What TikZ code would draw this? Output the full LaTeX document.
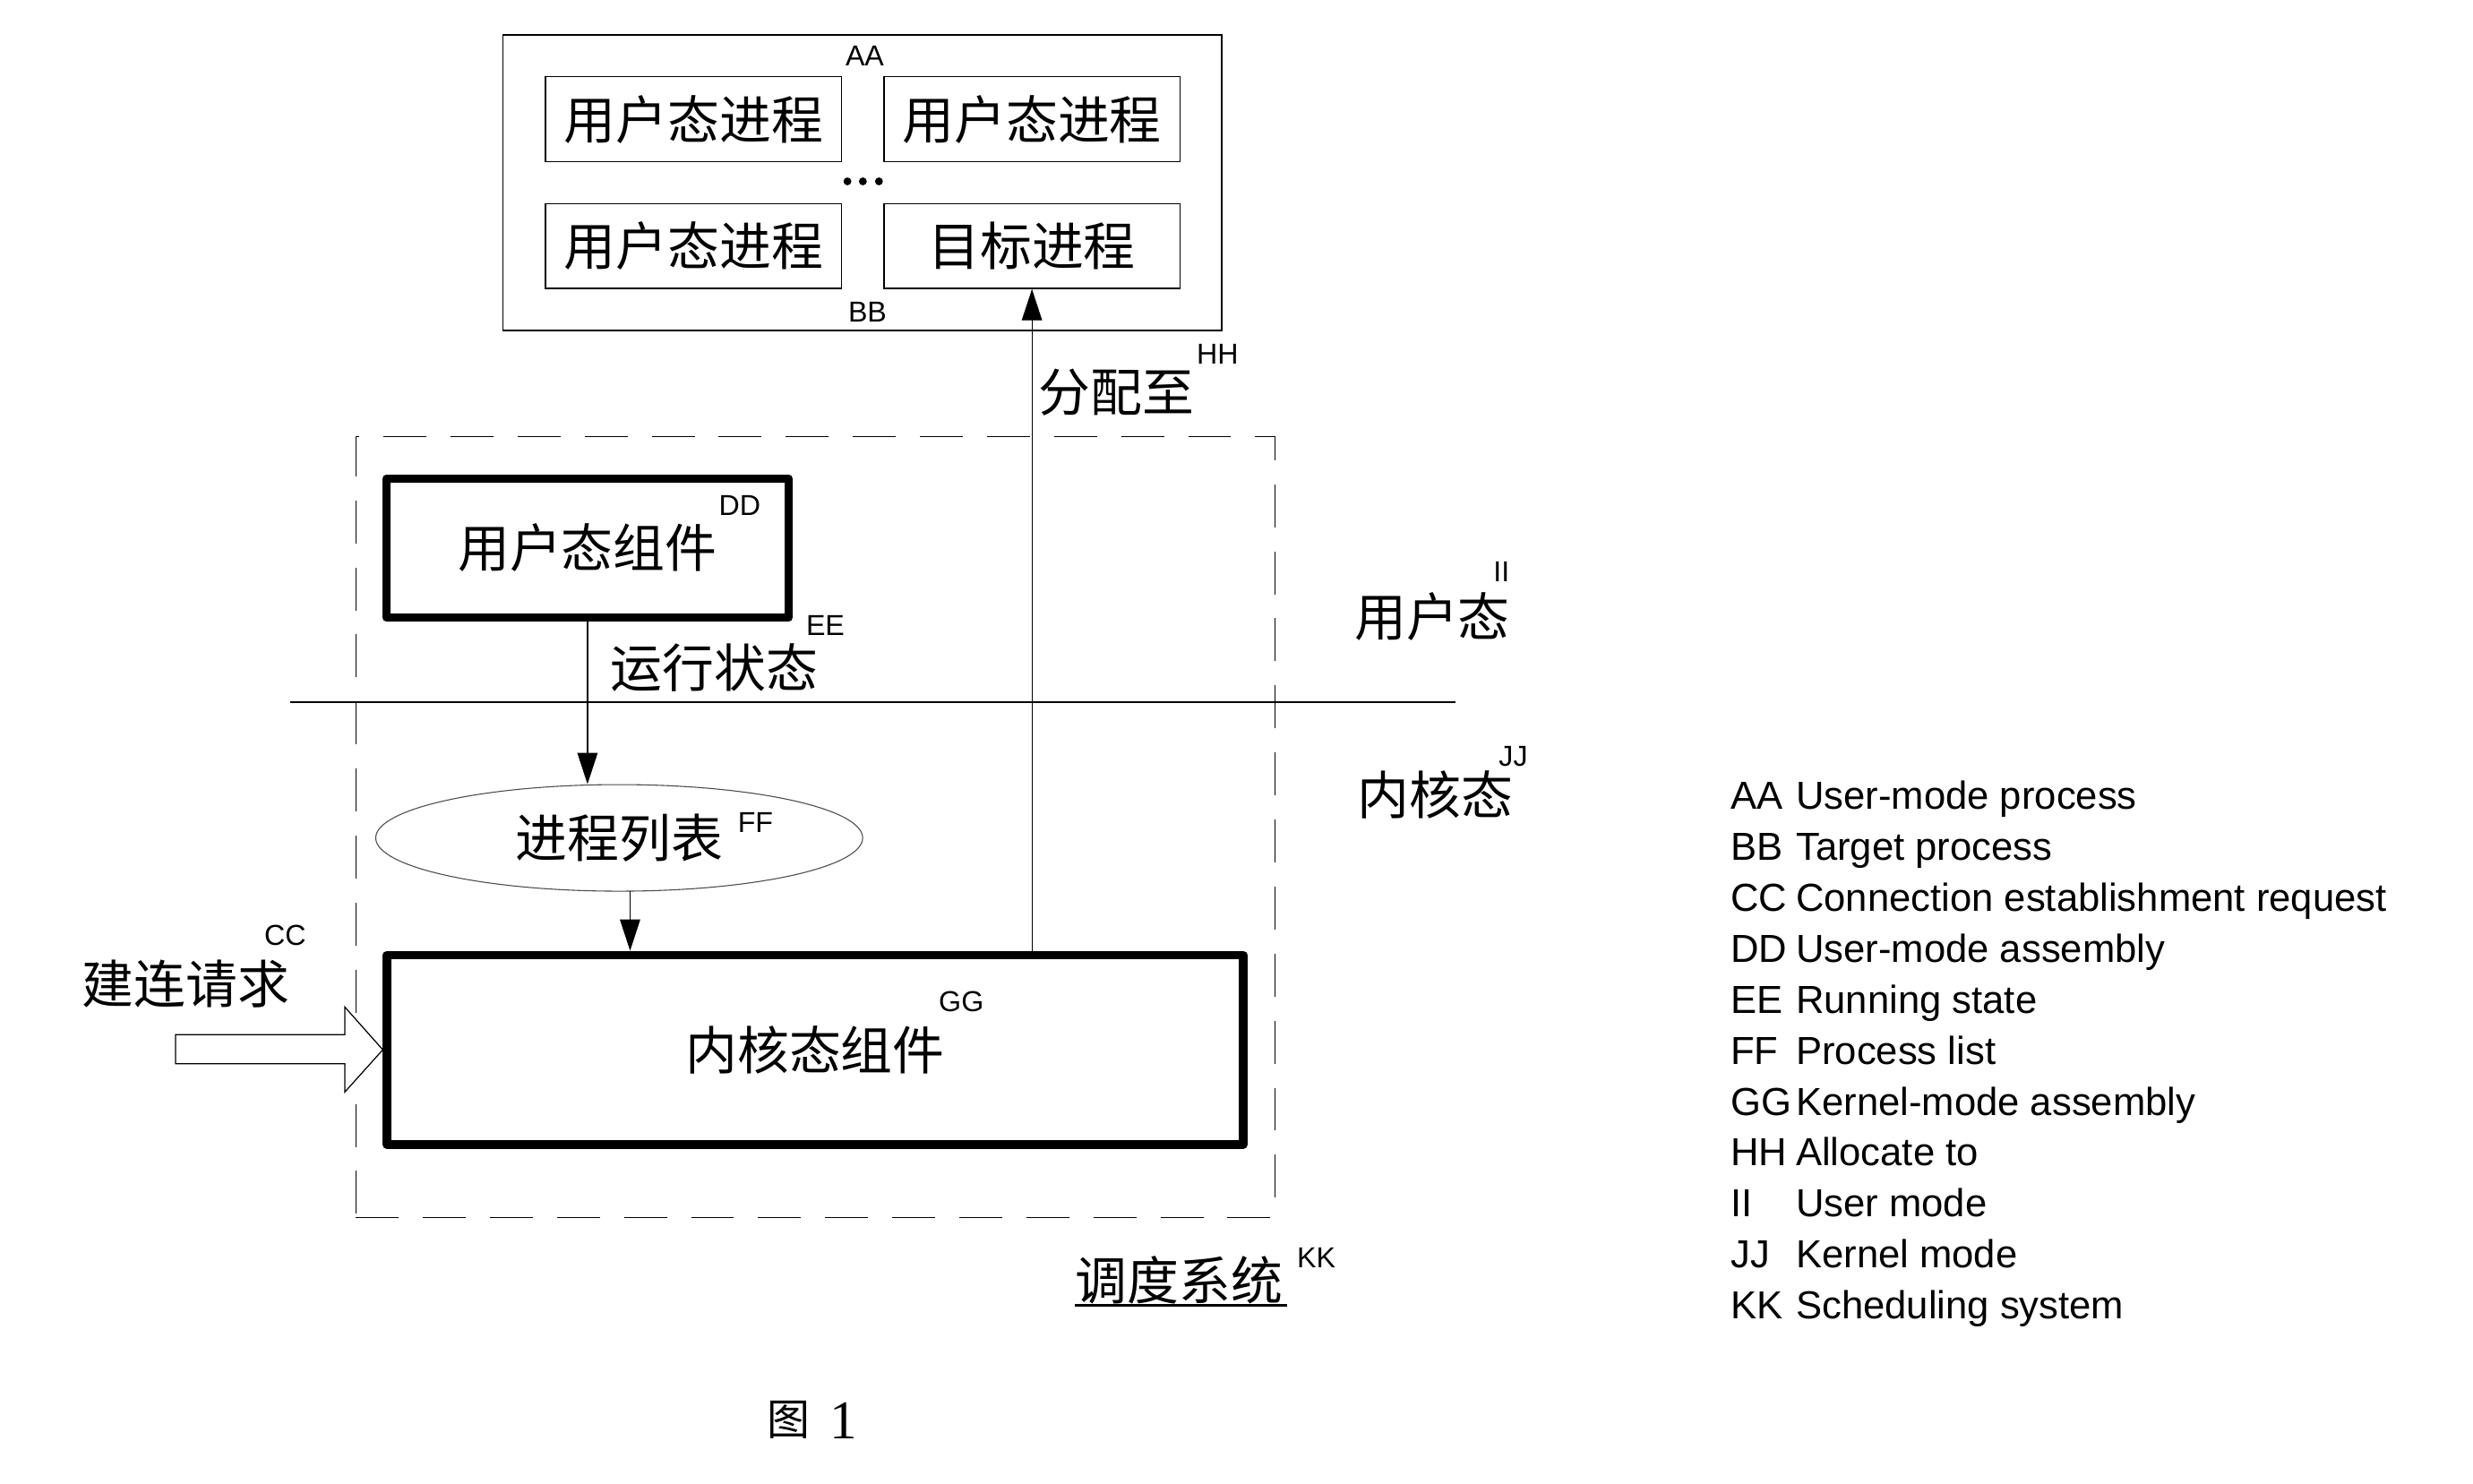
\documentclass[tikz,border=0pt]{standalone}
\usepackage{fontspec}
\setmainfont{Liberation Sans}
\newfontfamily\cjk{Noto Sans CJK SC}
\newfontfamily\serifnum{Liberation Serif}
\usetikzlibrary{arrows.meta,shapes.geometric}
\tikzset{
  cn/.style={font=\cjk\fontsize{18.7pt}{20pt}\selectfont, inner sep=0pt},
  lab/.style={font=\fontsize{10.4pt}{12pt}\selectfont, inner sep=0pt},
  leg/.style={font=\fontsize{14.1pt}{16pt}\selectfont, inner sep=0pt, anchor=base west},
  procbox/.style={draw, line width=0.45pt, inner sep=0pt, minimum width=3.756cm, minimum height=1.074cm, cn},
  thickbox/.style={draw, line width=3pt, line join=round, inner sep=0pt, cn},
  arr/.style={line width=0.4pt, -{Triangle[length=11.3pt,width=7.3pt]}},
  thinline/.style={line width=0.4pt},
}
\begin{document}
\begin{tikzpicture}[x=0.02cm, y=-0.02cm]
\useasboundingbox[fill=white] (0,0) rectangle (1568,941);

% dashed scheduling system box
\node[draw, line width=0.4pt, dash pattern=on 15.5pt off 8.7pt, minimum width=11.658cm, minimum height=9.9cm, inner sep=0pt] (sys) at (516.95,524.5) {};

% outer user-process box
\node[draw, line width=0.45pt, minimum width=9.114cm, minimum height=3.748cm, inner sep=0pt] (outer) at (546.75,115.9) {};
\node[procbox] (p1) at (439.8,75.55) {用户态进程};
\node[procbox] (p2) at (654.3,75.55) {用户态进程};
\node[procbox] (p3) at (439.8,156.05) {用户态进程};
\node[procbox] (target) at (654.3,156.05) {目标进程};
\node[lab] (aa) at (548.3,35.5) {AA};
\node[lab] (bb) at (550,197.8) {BB};
\fill (537.3,115) circle[radius=0.05cm];
\fill (547.1,115) circle[radius=0.05cm];
\fill (557.3,115) circle[radius=0.05cm];

% user component
\node[thickbox, minimum width=5.096cm, minimum height=1.766cm] (ucomp) at (372.5,347.55) {用户态组件};
\node[lab] (dd) at (469,320.8) {DD};
\node[lab] (ee) at (523.3,396.4) {EE};
\node[cn] (run) at (452.9,423.6) {运行状态};

% process list
\node[ellipse, draw=black!70, line width=0.35pt, minimum width=6.176cm, minimum height=1.352cm, inner sep=0pt, cn] (plist) at (392.6,531.3) {进程列表};
\node[lab] (ff) at (479,521.5) {FF};

% kernel component
\node[thickbox, minimum width=10.86cm, minimum height=2.406cm] (kernel) at (516.8,665.65) {内核态组件};
\node[lab] (gg) at (609.5,635) {GG};

% boundary line
\coordinate (hl1) at (184,445.2);
\coordinate (hl2) at (922.8,445.2);
\draw[thinline] (hl1) -- (hl2);

% connectors
\draw[arr] (ucomp.south) -- (ucomp.south |- plist.north);
\coordinate (pl) at (399.5,564.8);
\draw[arr] (pl) -- (pl |- kernel.north);
\draw[arr] (target.south |- kernel.north) -- (target.south);
\node[cn] (alloc) at (707.8,249) {分配至};
\node[lab] (hh) at (772,224.5) {HH};

% connection request hollow arrow
\node[cn] (req) at (117.7,623.6) {建连请求};
\node[lab] (cc) at (180.8,593.4) {CC};
\draw[line width=0.4pt, fill=white] (111.3,656) -- (218.6,656) -- (218.6,638.5) -- (kernel.west) -- (218.6,692.5) -- (218.6,674.5) -- (111.3,674.5) -- cycle;

% mode labels
\node[cn] (umode) at (908.1,391) {用户态};
\node[lab] (ii) at (952,362.5) {II};
\node[cn] (kmode) at (910,503.8) {内核态};
\node[lab] (jj) at (959.5,479.4) {JJ};

% scheduling system label
\node[cn] (sysl) at (747.7,812) {调度系统};
\draw[line width=0.87pt] (sysl.south west) -- ([xshift=1.4pt]sysl.south east);
\node[lab] (kk) at (834.6,797.8) {KK};

% figure caption
\node[font=\cjk\fontsize{15.5pt}{17pt}\selectfont, inner sep=0pt] (fig) at (500,900.5) {图};
\node[font=\serifnum\fontsize{19.7pt}{22pt}\selectfont, inner sep=0pt] (fignum) at (534.8,900.7) {1};

% legend
\foreach \code/\desc [count=\i from 0] in {AA/User-mode process, BB/Target process, CC/Connection establishment request, DD/User-mode assembly, EE/Running state, FF/Process list, GG/Kernel-mode assembly, HH/Allocate to, II/User mode, JJ/Kernel mode, KK/Scheduling system}{
  \node[leg] (lc\i) at (1097,513.3+32.3*\i) {\code};
  \node[leg] (ld\i) at (1138.4,513.3+32.3*\i) {\desc};
}
\end{tikzpicture}
\end{document}
